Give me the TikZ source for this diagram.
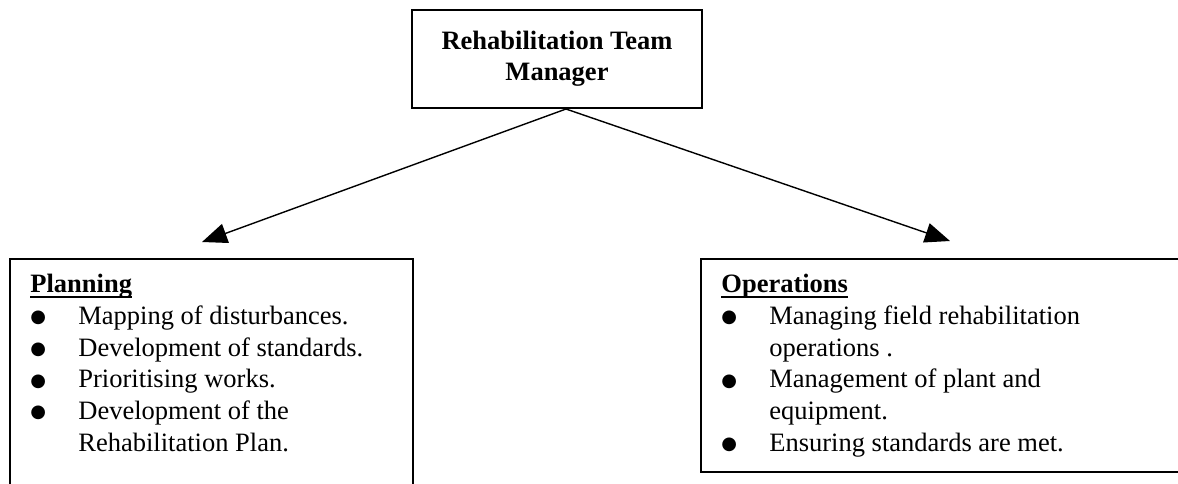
\documentclass[tikz,border=0pt]{standalone}
\usepackage{fontspec}
\setmainfont{Liberation Serif}
\newfontfamily\symbolface{DejaVu Sans}
\usetikzlibrary{arrows.meta}
% bold heading with a rule set at a fixed depth below the baseline
\newcommand\headline[1]{\setbox0\hbox{\bfseries #1}\rlap{\rule[-2.7pt]{\wd0}{0.9pt}}\box0}
% large list bullet
\newcommand\bigdot{\raisebox{0.8pt}{\symbolface\fontsize{9}{9}\selectfont ●}}

\begin{document}
\begin{tikzpicture}[x=0.5pt,y=-0.5pt,
  frame/.style={draw, line width=1pt, inner sep=0pt},
  link/.style={line width=0.7pt, -{Triangle[length=12.5pt,width=10pt]}},
  body/.style={inner sep=0pt, anchor=base west, font=\fontsize{13.25}{15.85}\selectfont},
]
\useasboundingbox (0,0) rectangle (1178,483);
\clip (0,0) rectangle (1178,483);

% manager box
\node[frame, minimum width=145pt, minimum height=49pt,
      font=\fontsize{13.25}{15.5}\selectfont\bfseries, align=center]
  (mgr) at (557,59) {Rehabilitation Team\\Manager};

% the two panels run past the page edge
\node[frame, anchor=north west, minimum width=201.5pt, minimum height=130pt] (plan) at (9,258) {};
\node[frame, anchor=north west, minimum width=260pt, minimum height=106.5pt] (ops) at (700,258) {};

\node[body] (plantext) at (30,292.7) {\begin{tabular}[t]{@{}p{24pt}@{}l@{}}
\multicolumn{2}{@{}l@{}}{\headline{Planning}}\\
\bigdot & Mapping of disturbances.\\
\bigdot & Development of standards.\\
\bigdot & Prioritising works.\\
\bigdot & Development of the\\
        & Rehabilitation Plan.
\end{tabular}};

\node[body] (opstext) at (721,292.7) {\begin{tabular}[t]{@{}p{24pt}@{}l@{}}
\multicolumn{2}{@{}l@{}}{\headline{Operations}}\\
\bigdot & Managing field rehabilitation\\
        & operations .\\
\bigdot & Management of plant and\\
        & equipment.\\
\bigdot & Ensuring standards are met.
\end{tabular}};

% connectors
\coordinate (plantip) at (202,242);
\coordinate (opstip) at (950,241);
\draw[link] ([xshift=4.5pt]mgr.south) -- (plantip);
\draw[link] ([xshift=4.5pt]mgr.south) -- (opstip);
\end{tikzpicture}
\end{document}
